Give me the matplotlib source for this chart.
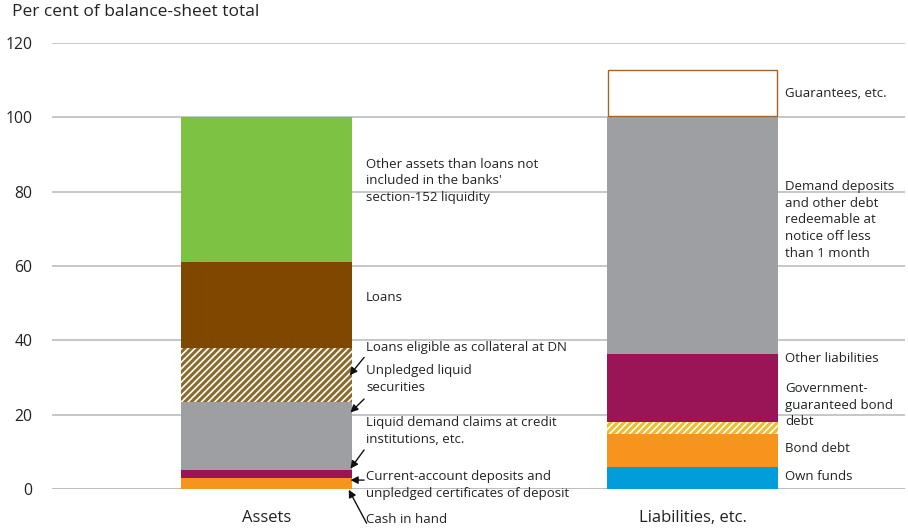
import matplotlib
matplotlib.use("Agg")
import matplotlib.pyplot as plt

plt.rcParams['font.family'] = ['Open Sans', 'DejaVu Sans']
plt.rcParams['hatch.linewidth'] = 2.2

categories = ["Assets", "Liabilities, etc."]

# stacked segments (bottom to top), values in per cent of balance-sheet total
asset_names = ["Cash in hand", "Current-account deposits", "Liquid demand claims",
               "Unpledged liquid securities", "Loans eligible as collateral",
               "Loans", "Other assets"]
asset_values = [3.0, 2.1, 18.4, 6.0, 8.5, 23.1, 38.9]
asset_colors = ["#F7941D", "#9A1558", "#9D9FA2", "white", "white", "#7F4700", "#7DC242"]
asset_hatch = [None, None, None, "/////", "/////", None, None]
asset_hatchcol = [None, None, None, "#8C6A2C", "#8C6A2C", None, None]

liab_names = ["Own funds", "Bond debt", "Government-guaranteed bond debt",
              "Other liabilities", "Demand deposits", "Guarantees"]
liab_values = [6.0, 8.8, 3.3, 18.2, 63.7, 12.7]
liab_colors = ["#009DDB", "#F7941D", "white", "#9A1558", "#9D9FA2", "white"]
liab_hatch = [None, None, "/////", None, None, None]
liab_hatchcol = [None, None, "#F0BC2C", None, None, None]

asset_labels = [
    ("Other assets than loans not\nincluded in the banks'\nsection-152 liquidity", 82.9),
    ("Loans", 51.4),
    ("Loans eligible as collateral at DN", 38.2),
    ("Unpledged liquid\nsecurities", 29.5),
    ("Liquid demand claims at credit\ninstitutions, etc.", 15.6),
    ("Current-account deposits and\nunpledged certificates of deposit", 1.1),
    ("Cash in hand", -8.1),
]
liab_labels = [
    ("Guarantees, etc.", 106.5),
    ("Demand deposits\nand other debt\nredeemable at\nnotice off less\nthan 1 month", 72.4),
    ("Other liabilities", 35.0),
    ("Government-\nguaranteed bond\ndebt", 22.6),
    ("Bond debt", 10.8),
    ("Own funds", 3.5),
]
# arrows: (tail x, tail y, head x, head y)
arrows = [
    (0.229, 35.4, 0.195, 30.6),
    (0.229, 24.2, 0.197, 20.6),
    (0.229, 10.5, 0.197, 5.5),
    (0.229, 2.4, 0.197, 2.4),
    (0.235, -9.2, 0.193, -0.2),
]

fig = plt.figure(figsize=(9.08, 5.32), dpi=100)
ax = fig.add_axes([0.0573, 0.0808, 0.9394, 0.8383])

width = 0.40
bottom = 0
for v, c, h, hc in zip(asset_values, asset_colors, asset_hatch, asset_hatchcol):
    if h:
        ax.bar(0, v, width, bottom=bottom, color=c, hatch=h, edgecolor=hc, linewidth=0, zorder=3)
    else:
        ax.bar(0, v, width, bottom=bottom, color=c, linewidth=0, zorder=3)
    bottom += v

bottom = 0
for name, v, c, h, hc in zip(liab_names, liab_values, liab_colors, liab_hatch, liab_hatchcol):
    if h:
        ax.bar(1, v, width, bottom=bottom, color=c, hatch=h, edgecolor=hc, linewidth=0, zorder=3)
    elif name == "Guarantees":
        ax.bar(1, v - 0.3, width - 0.003, bottom=bottom + 0.3, color=c, edgecolor="#A5652A",
               linewidth=1.0, zorder=3)
    else:
        ax.bar(1, v, width, bottom=bottom, color=c, linewidth=0, zorder=3)
    bottom += v

for txt, y in asset_labels:
    ax.text(0.234, y, txt, fontsize=9.5, color="#222222", va="center", ha="left",
            linespacing=1.38, clip_on=False)
for txt, y in liab_labels:
    ax.text(1.217, y, txt, fontsize=9.5, color="#222222", va="center", ha="left",
            linespacing=1.38, clip_on=False)

for x0, y0, x1, y1 in arrows:
    ax.annotate("", xy=(x1, y1), xytext=(x0, y0), annotation_clip=False,
                arrowprops=dict(arrowstyle="-|>", color="#111111", lw=1.0,
                                mutation_scale=11, shrinkA=0, shrinkB=0))

ax.set_xlim(-0.5035, 1.4988)
ax.set_ylim(0, 120)
ax.set_yticks([0, 20, 40, 60, 80, 100, 120])
ax.set_xticks([0, 1])
ax.set_xticklabels(categories)
ax.yaxis.grid(True, color="#BDBDBD", lw=1.2, zorder=0)
ax.set_axisbelow(True)
for s in ax.spines.values():
    s.set_visible(False)
ax.tick_params(axis="y", length=0, pad=14, labelsize=11.3, labelcolor="#222222")
ax.tick_params(axis="x", length=0, pad=15, labelsize=12, labelcolor="#222222")
ax.axhline(0, color="#BDBDBD", lw=1.2, zorder=1)

fig.text(12 / 908, 1 - 12 / 532, "Per cent of balance-sheet total", fontsize=12.5,
         color="#222222", va="center", ha="left")

fig.savefig("out.png", dpi=100)
